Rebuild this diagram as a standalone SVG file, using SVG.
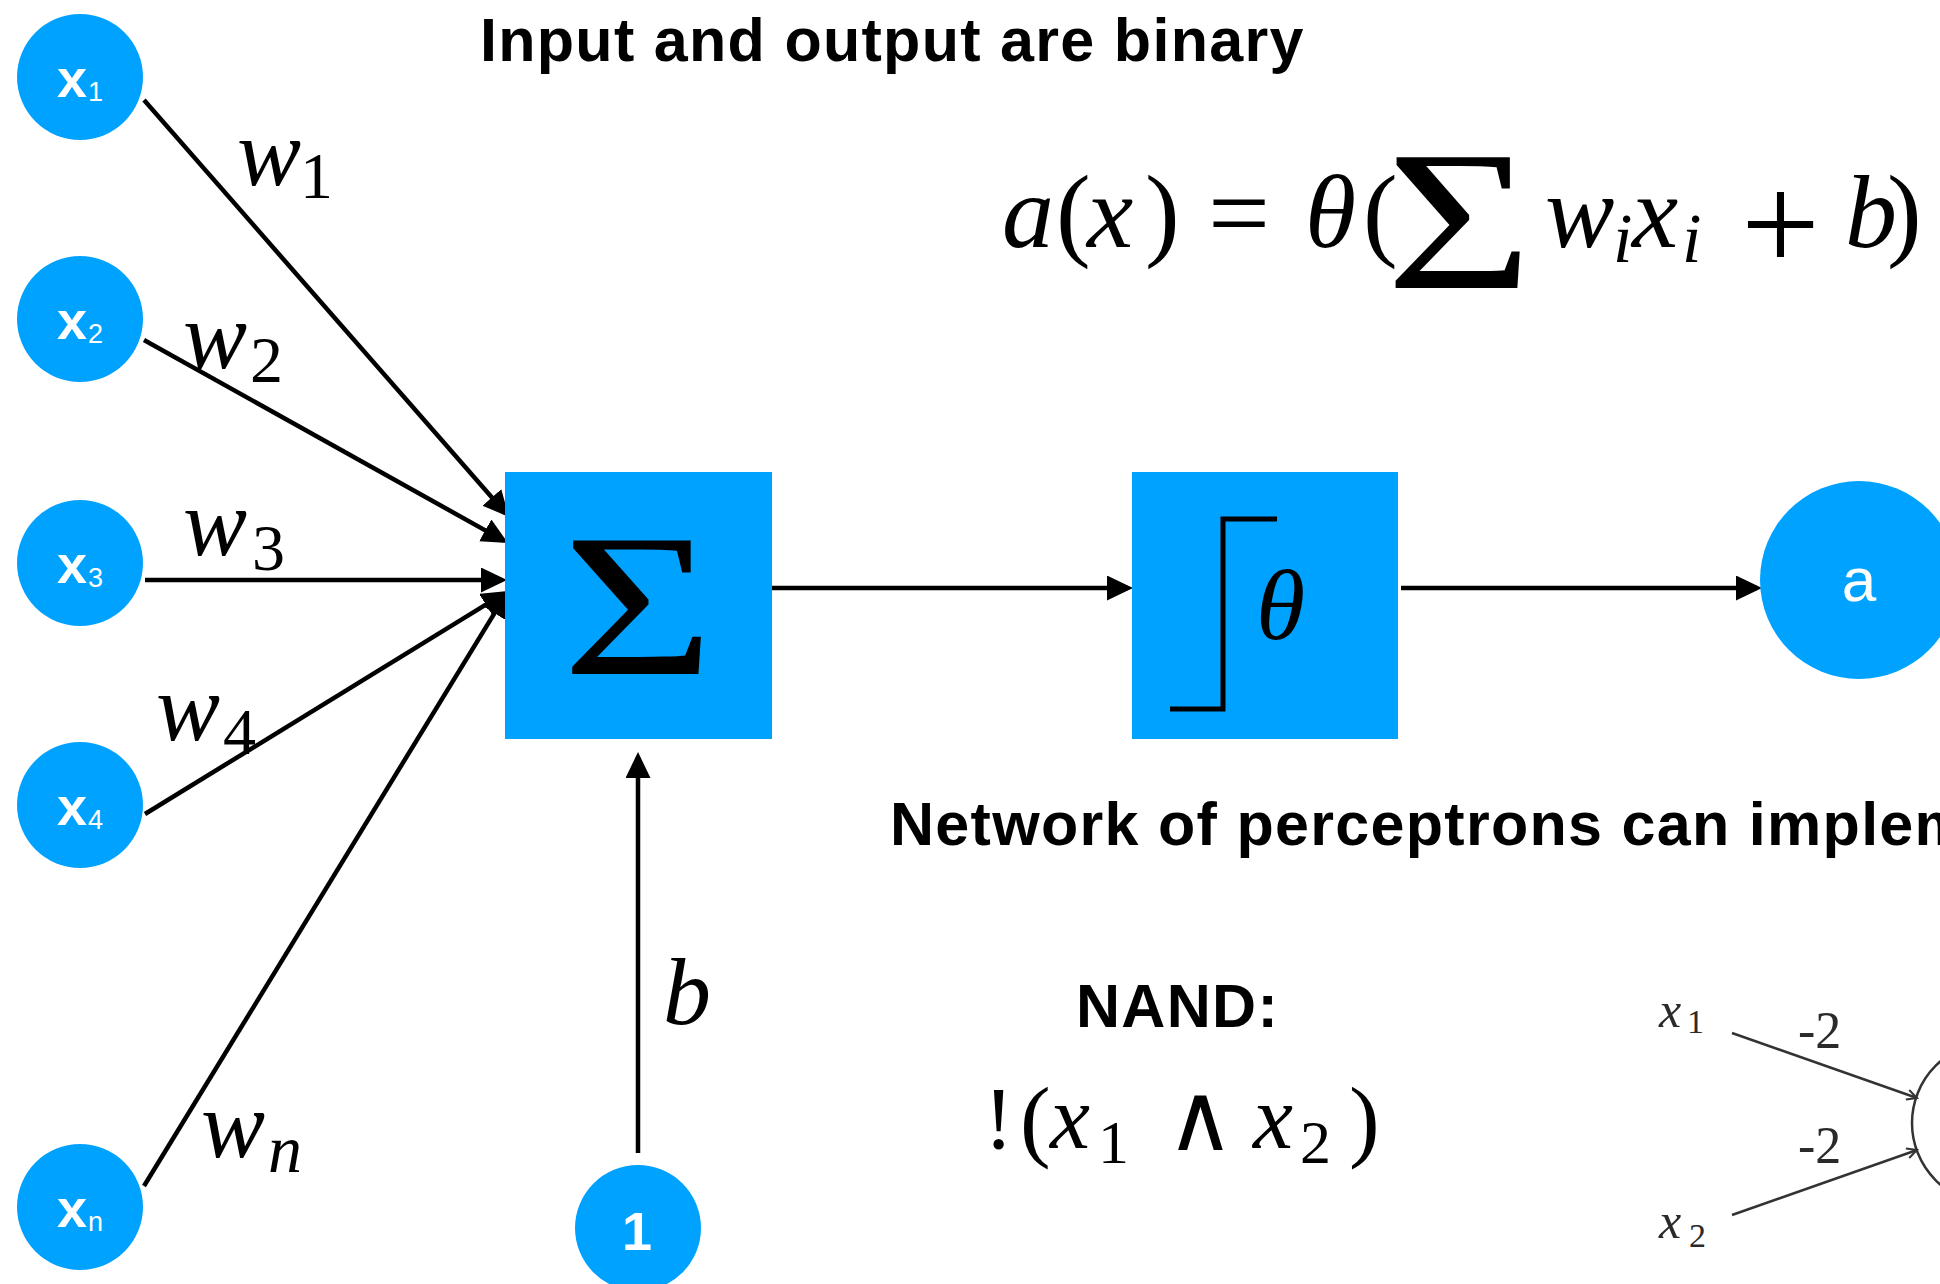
<svg xmlns="http://www.w3.org/2000/svg" width="1940" height="1284" viewBox="0 0 1940 1284">
<defs>
<style>
.node{fill:#00A2FF}
.lbl{font-family:"Liberation Sans",Arial,sans-serif;fill:#fff;font-weight:bold;font-size:54px}
.lsub{font-weight:normal;font-size:27px}
.conn{stroke:#000;stroke-width:4.5;fill:none}
.thin{stroke:#333;stroke-width:2.5;fill:none}
.it{font-family:"Liberation Serif","Times New Roman",serif;font-style:italic;fill:#000}
.rm{font-family:"Liberation Serif","Times New Roman",serif;font-style:normal;fill:#000}
.head{font-family:"Liberation Sans",Arial,sans-serif;font-weight:bold;font-size:61px;letter-spacing:1.3px;fill:#000}
.gray{fill:#2a2a2a}
</style>
<marker id="ah" markerUnits="userSpaceOnUse" markerWidth="28" markerHeight="26" refX="21" refY="12.5" orient="auto">
<path d="M0,0 L26,12.5 L0,25 Z" fill="#000"/>
</marker>
<marker id="oh" markerUnits="userSpaceOnUse" markerWidth="14" markerHeight="14" refX="11" refY="6" orient="auto">
<path d="M1,1 L11,6 L1,11" fill="none" stroke="#333" stroke-width="2"/>
</marker>
</defs>
<rect width="1940" height="1284" fill="#fff"/>

<text class="head" x="480" y="61">Input and output are binary</text>

<g id="connectors">
<line class="conn" x1="144" y1="100" x2="505.7" y2="513.2" marker-end="url(#ah)"/>
<line class="conn" x1="144" y1="340" x2="503.6" y2="540.6" marker-end="url(#ah)"/>
<line class="conn" x1="145" y1="580" x2="502" y2="580" marker-end="url(#ah)"/>
<line class="conn" x1="145" y1="814" x2="503.7" y2="593.6" marker-end="url(#ah)"/>
<line class="conn" x1="144" y1="1186" x2="505.4" y2="595.3" marker-end="url(#ah)"/>
<line class="conn" x1="638" y1="1153" x2="638" y2="757" marker-end="url(#ah)"/>
<line class="conn" x1="772" y1="588" x2="1128" y2="588" marker-end="url(#ah)"/>
<line class="conn" x1="1401" y1="588" x2="1757" y2="588" marker-end="url(#ah)"/>
<line class="thin" x1="1732" y1="1033" x2="1917" y2="1098" marker-end="url(#oh)"/>
<line class="thin" x1="1732" y1="1215" x2="1917" y2="1150" marker-end="url(#oh)"/>
</g>

<g id="node-x1"><circle class="node" cx="80" cy="77" r="63"/><text class="lbl" x="57" y="97">x<tspan class="lsub" x="88" y="101">1</tspan></text></g>
<g id="node-x2"><circle class="node" cx="80" cy="319" r="63"/><text class="lbl" x="57" y="339">x<tspan class="lsub" x="88" y="343">2</tspan></text></g>
<g id="node-x3"><circle class="node" cx="80" cy="563" r="63"/><text class="lbl" x="57" y="583">x<tspan class="lsub" x="88" y="587">3</tspan></text></g>
<g id="node-x4"><circle class="node" cx="80" cy="805" r="63"/><text class="lbl" x="57" y="825">x<tspan class="lsub" x="88" y="829">4</tspan></text></g>
<g id="node-xn"><circle class="node" cx="80" cy="1207" r="63"/><text class="lbl" x="57" y="1227">x<tspan class="lsub" x="88" y="1231">n</tspan></text></g>

<g id="weight-labels">
<text class="it" x="237" y="185" font-size="96">w<tspan class="rm" x="300" y="198" font-size="66">1</tspan></text>
<text class="it" x="183" y="368" font-size="96">w<tspan class="rm" x="250" y="382" font-size="66">2</tspan></text>
<text class="it" x="183" y="555" font-size="96">w<tspan class="rm" x="252" y="570" font-size="66">3</tspan></text>
<text class="it" x="156" y="740" font-size="96">w<tspan class="rm" x="223" y="754" font-size="66">4</tspan></text>
<text class="it" x="201" y="1157" font-size="96">w<tspan x="268" y="1172" font-size="68">n</tspan></text>
<text class="it" x="663" y="1024" font-size="96">b</text>
</g>

<g id="node-sum"><rect class="node" x="505" y="472" width="267" height="267"/><text class="rm" transform="translate(638,674) scale(1.28,1)" x="0" y="0" font-size="204" text-anchor="middle">Σ</text></g>
<g id="node-theta"><rect class="node" x="1132" y="472" width="266" height="267"/><path d="M1170,709 H1223 V519 H1277" stroke="#000" stroke-width="5" fill="none"/><text class="it" x="1256" y="639" font-size="100">θ</text></g>
<g id="node-a"><circle class="node" cx="1859" cy="580" r="99"/><text x="1859" y="601" font-family="Liberation Sans,Arial,sans-serif" font-size="62" fill="#fff" text-anchor="middle">a</text></g>
<g id="node-bias"><circle class="node" cx="638" cy="1228" r="63"/><text class="lbl" x="637" y="1250" text-anchor="middle">1</text></g>

<g id="formula">
<text class="it" x="1002" y="247" font-size="104">a</text>
<text class="rm" x="1056" y="247" font-size="104">(</text>
<text class="it" x="1087" y="247" font-size="104">x</text>
<text class="rm" x="1145" y="247" font-size="104">)</text>
<text class="rm" x="1208" y="250" font-size="110">=</text>
<text class="it" x="1305" y="247" font-size="104">θ</text>
<text class="rm" x="1363" y="247" font-size="104">(</text>
<text class="rm" transform="translate(1459,288) scale(1.26,1)" x="0" y="0" font-size="200" text-anchor="middle">Σ</text>
<text class="it" x="1545" y="247" font-size="104">w</text>
<text class="it" x="1613" y="262" font-size="70">i</text>
<text class="it" x="1632" y="247" font-size="104">x</text>
<text class="it" x="1682" y="262" font-size="70">i</text>
<text class="rm" x="1741" y="271" font-size="140">+</text>
<text class="it" x="1845" y="247" font-size="104">b</text>
<text class="rm" x="1887" y="247" font-size="104">)</text>
</g>

<text class="head" x="890" y="845">Network of perceptrons can implement</text>

<text class="head" x="1076" y="1027" letter-spacing="0">NAND:</text>
<g id="nand-formula">
<text class="rm" x="984" y="1148" font-size="88">!</text>
<text class="rm" x="1020" y="1150" font-size="92">(</text>
<text class="it" x="1050" y="1148" font-size="90">x</text>
<text class="rm" x="1098" y="1163" font-size="62">1</text>
<text x="1166" y="1150" font-family="DejaVu Sans,sans-serif" font-weight="200" font-size="94">∧</text>
<text class="it" x="1253" y="1148" font-size="90">x</text>
<text class="rm" x="1300" y="1163" font-size="62">2</text>
<text class="rm" x="1349" y="1150" font-size="92">)</text>
</g>

<g id="nand-diagram">
<text class="it gray" x="1659" y="1027" font-size="50">x</text>
<text class="rm gray" x="1687" y="1033" font-size="34">1</text>
<text class="it gray" x="1659" y="1238" font-size="50">x</text>
<text class="rm gray" x="1689" y="1247" font-size="34">2</text>
<text class="rm gray" x="1798" y="1048" font-size="52">-2</text>
<text class="rm gray" x="1798" y="1163" font-size="52">-2</text>
<circle cx="1993" cy="1123" r="81" class="thin"/>
</g>
</svg>
